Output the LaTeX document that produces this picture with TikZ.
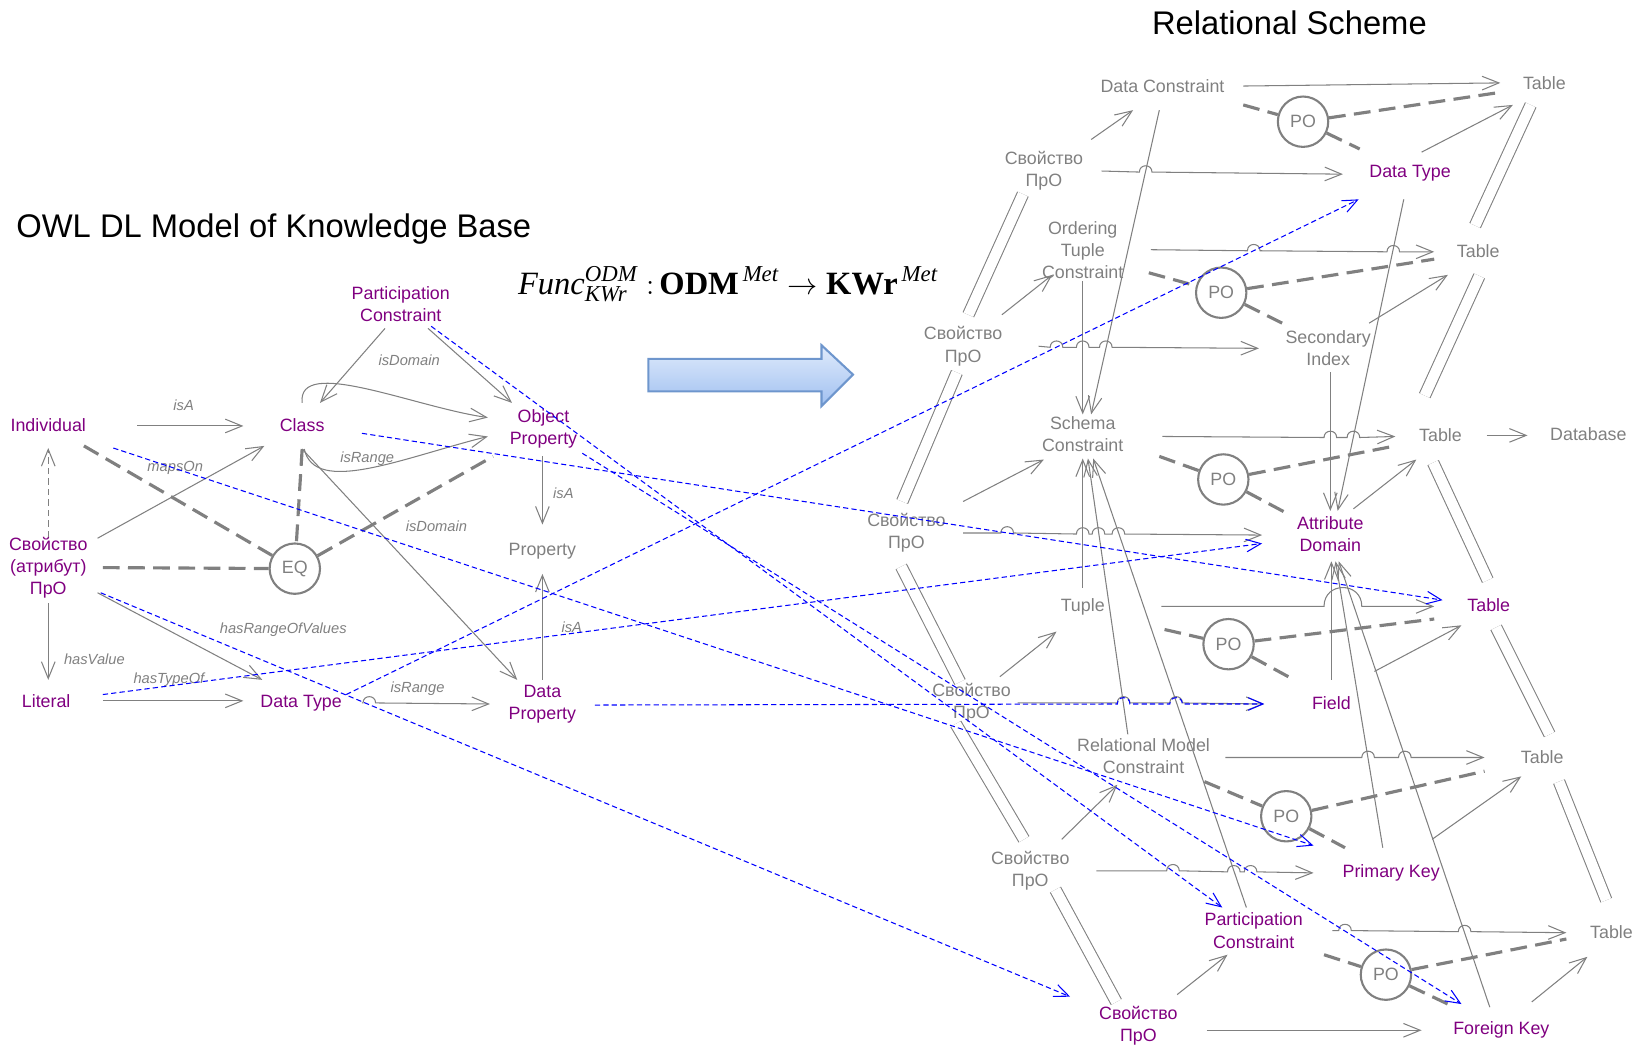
\documentclass[tikz,border=0pt]{standalone}
\usepackage{fontspec}
\usepackage{amsmath}
\setmainfont{Liberation Sans}
\newfontfamily\tms{Liberation Serif}
\usetikzlibrary{arrows.meta,calc}
\definecolor{pur}{RGB}{128,0,128}
\definecolor{gry}{RGB}{128,128,128}
\definecolor{bfA}{RGB}{224,235,252}
\definecolor{bfB}{RGB}{160,192,240}
\definecolor{bEdge}{RGB}{110,150,205}
\tikzset{
 txtbase/.style={font=\fontsize{8.5}{10.5}\selectfont, align=center, inner sep=0pt},
 pn/.style={txtbase, text=pur},
 gn/.style={txtbase, text=gry},
 pocirc/.style={circle, draw=gry, line width=1pt, minimum size=24pt, inner sep=0pt, text=gry, font=\fontsize{8.5}{10}\selectfont},
 ar/.style={draw=gry, line width=0.5pt, -{Straight Barb[length=8pt,width=6.5pt]}},
 hd/.style={draw=gry, line width=1.5pt, dash pattern=on 8pt off 4pt},
 bl/.style={draw=blue, line width=0.5pt, dash pattern=on 2.5pt off 1.5pt, -{Straight Barb[length=7pt,width=6pt]}},
 dbl/.style={draw=gry, line width=0.5pt, double=white, double distance=5pt},
 lab/.style={font=\fontsize{7}{8}\selectfont\itshape, text=gry, inner sep=0pt},
 ttl/.style={font=\fontsize{15.6}{18}\selectfont, text=black, inner sep=0pt},
 hp/.style args={#1/#2}{insert path={-- (#1-6,#2) .. controls (#1-6,#2-8) and (#1+6,#2-8) .. (#1+6,#2)}},
 bighp/.style args={#1/#2}{insert path={-- (#1-18,#2) .. controls (#1-18,#2-24) and (#1+18,#2-24) .. (#1+18,#2)}},
}
\begin{document}
\begin{tikzpicture}[x=0.5pt,y=-0.5pt]
\useasboundingbox (0,0) rectangle (1567,998);

% ---------- titles ----------
\node[ttl] (tL) at (261,218) {OWL DL Model of Knowledge Base};
\node[ttl] (tR) at (1229,22) {Relational Scheme};
\node[inner sep=0pt] (fml) at (694,271) {\tms\fontsize{15.5}{18}\selectfont
 $\text{\itshape Func}^{\text{\itshape ODM}}_{\text{\itshape KWr}}\;{:}\,\text{\bfseries ODM}^{\,\text{\itshape Met}}\rightarrow\text{\bfseries KWr}^{\,\text{\itshape Met}}$};

% big arrow
\path[draw=bEdge, line width=1pt, top color=bfA, bottom color=bfB]
 (618,342) -- (783,342) -- (783,329) -- (813,357) -- (783,387) -- (783,373) -- (618,373) -- cycle;

% ---------- left nodes ----------
\node[pn] (ind) at (46,405) {Individual};
\node[pn] (cls) at (288,405) {Class};
\node[pn] (pcL) at (382,290) {Participation\\Constraint};
\node[pn] (op) at (518,409) {Object\\Property};
\node[pn] (sa) at (46,541) {Свойство\\(атрибут)\\ПрО};
\node[pocirc] (eq) at (281,542) {EQ};
\node[gn] (prop) at (517,525) {Property};
\node[pn] (lit) at (44,668) {Literal};
\node[pn] (dtL) at (287,670) {Data Type};
\node[pn] (dp) at (517,671) {Data\\Property};

% ---------- right nodes ----------
\node[gn] (dc) at (1108,82) {Data Constraint};
\node[gn] (t1) at (1472,79) {Table};
\node[pocirc] (po1) at (1242,116) {PO};
\node[gn] (s1) at (995,163) {Свойство\\ПрО};
\node[pn] (dtR) at (1344,165) {Data Type};
\node[gn] (otc) at (1032,238) {Ordering\\Tuple\\Constraint};
\node[gn] (t2) at (1409,239) {Table};
\node[pocirc] (po2) at (1164,279) {PO};
\node[gn] (si) at (1266,332) {Secondary\\Index};
\node[gn] (s2) at (918,330) {Свойство\\ПрО};
\node[gn] (sc) at (1032,414) {Schema\\Constraint};
\node[gn] (t3) at (1373,415) {Table};
\node[gn] (db) at (1514,414) {Database};
\node[pocirc] (po3) at (1166,457) {PO};
\node[pn] (ad) at (1268,509) {Attribute\\Domain};
\node[gn] (s3) at (864,508) {Свойство\\ПрО};
\node[gn] (tu) at (1032,578) {Tuple};
\node[pn] (t4) at (1419,577) {Table};
\node[pocirc] (po4) at (1171,614) {PO};
\node[pn] (fd) at (1269,670) {Field};
\node[gn] (s4) at (926,670) {Свойство\\ПрО};
\node[gn] (rmc) at (1090,721) {Relational Model\\Constraint};
\node[gn] (t5) at (1470,722) {Table};
\node[pocirc] (po5) at (1226,778) {PO};
\node[gn] (s5) at (982,830) {Свойство\\ПрО};
\node[pn] (pk) at (1326,832) {Primary Key};
\node[pn] (pcR) at (1195,887) {Participation\\Constraint};
\node[gn] (t6) at (1536,888) {Table};
\node[pocirc] (po6) at (1321,929) {PO};
\node[pn] (s6) at (1085,978) {Свойство\\ПрО};
\node[pn] (fk) at (1431,982) {Foreign Key};

% ---------- double lines ----------
\draw[dbl] ($(t1)+(-13,21)$) -- ($(t2)+(-3,-24)$);
\draw[dbl] ($(t2)+(1,24)$) -- ($(t3)+(-15,-38)$);
\draw[dbl] ($(t3)+(-7,26)$) -- ($(t4)+(-1,-24)$);
\draw[dbl] ($(t4)+(7,21)$) -- ($(t5)+(7,-22)$);
\draw[dbl] ($(t5)+(16,23)$) -- ($(t6)+(-5,-30)$);
\draw[dbl] ($(s1)+(-20,22)$) -- ($(s2)+(5,-30)$);
\draw[dbl] ($(s2)+(-6,25)$) -- ($(s3)+(-4,-30)$);
\draw[dbl] ($(s3)+(-5,32)$) -- ($(s4)+(-11,-20)$);
\draw[dbl] ($(s4)+(-15,20)$) -- ($(s5)+(-6,-30)$);
\draw[dbl] ($(s5)+(24,18)$) -- ($(s6)+(-21,-23)$);

% ---------- left grey edges ----------
\draw[ar] ($(ind)+(85,1)$) -- ($(cls)+(-56,1)$);
\draw[ar, dash pattern=on 3pt off 2pt] ($(sa)+(0,-29)$) -- ($(ind)+(0,22)$);
\draw[ar] ($(sa)+(0,34)$) -- ($(lit)+(2,-20)$);
\draw[ar] ($(lit)+(54,0)$) -- ($(dtL)+(-55,-2)$);
\draw[ar] ($(sa)+(47,24)$) -- ($(dtL)+(-37,-22)$);
\draw[ar] ($(sa)+(47,-28)$) -- ($(cls)+(-36,20)$);
\draw[ar] ($(pcL)+(-15,23)$) -- ($(cls)+(17,-21)$);
\draw[ar] ($(pcL)+(26,23)$) -- ($(op)+(-30,-25)$);
\draw[ar] ($(cls)+(0,-21)$) .. controls +(-5,-45) and +(-70,-10) .. ($(op)+(-53,-11)$);
\draw[ar] ($(cls)+(2,23)$) .. controls +(10,45) and +(-80,20) .. ($(op)+(-53,7)$);
\draw[ar] ($(cls)+(0,23)$) -- ($(dp)+(-24,-23)$);
\draw[ar] ($(op)+(-1,26)$) -- ($(prop)+(0,-25)$);
\draw[ar] ($(dp)+(0,-23)$) -- ($(prop)+(0,22)$);
\draw[ar] ($(dtL)+(58,0)$) [hp=352/670] -- ($(dp)+(-50,0)$);
\draw[hd] ($(cls)+(0,23)$) -- (eq);
\draw[hd] ($(ind)+(34,20)$) -- (eq);
\draw[hd] ($(sa)+(52,0)$) -- (eq);
\draw[hd] (eq) -- ($(op)+(-48,26)$);

% left labels
\node[lab] (l1) at (175,386) {isA};
\node[lab] (l2) at (167,446) {mapsOn};
\node[lab] (l3) at (390,343) {isDomain};
\node[lab] (l4) at (350,437) {isRange};
\node[lab] (l5) at (537,470) {isA};
\node[lab] (l6) at (416,502) {isDomain};
\node[lab] (l7) at (270,600) {hasRangeOfValues};
\node[lab] (l8) at (90,628) {hasValue};
\node[lab] (l9) at (161,648) {hasTypeOf};
\node[lab] (l10) at (545,598) {isA};
\node[lab] (l11) at (398,656) {isRange};

% ---------- right grey edges ----------
% row 1
\draw[ar] ($(dc)+(77,0)$) -- ($(t1)+(-42,0)$);
\draw[ar] ($(s1)+(45,-30)$) -- ($(dc)+(-28,23)$);
\draw[ar] ($(s1)+(55,0)$) [hp=1092/164] -- ($(dtR)+(-64,1)$);
\draw[ar] ($(dtR)+(11,-20)$) -- ($(t1)+(-30,21)$);
\draw[ar] ($(dtR)+(-6,25)$) -- ($(ad)+(7,-22)$);
\draw[ar] ($(dc)+(-3,23)$) -- ($(sc)+(8,-19)$);
\draw[ar] ($(otc)+(0,30)$) -- ($(sc)+(0,-19)$);
\draw[hd] ($(dc)+(77,18)$) -- (po1);
\draw[hd] (po1) -- ($(t1)+(-42,9)$);
\draw[hd] (po1) -- ($(dtR)+(-48,-23)$);
% row 2
\draw[ar] ($(otc)+(65,0)$) [hp=1195/239] [hp=1328/240] -- ($(t2)+(-42,1)$);
\draw[ar] ($(s2)+(37,-30)$) -- ($(otc)+(-29,24)$);
\draw[ar] ($(s2)+(72,0)$) [hp=1007/331] [hp=1032/331] [hp=1054/331] -- ($(si)+(-66,0)$);
\draw[ar] ($(si)+(39,-24)$) -- ($(t2)+(-29,23)$);
\draw[ar] ($(si)+(2,23)$) -- ($(ad)+(0,-22)$);
\draw[hd] ($(otc)+(63,22)$) -- (po2);
\draw[hd] (po2) -- ($(t2)+(-42,8)$);
\draw[hd] (po2) -- ($(si)+(-44,-24)$);
% row 3
\draw[ar] ($(sc)+(76,2)$) [hp=1268/417] [hp=1290/417] -- ($(t3)+(-43,1)$);
\draw[ar] ($(t3)+(44,0)$) -- ($(db)+(-58,1)$);
\draw[ar] ($(s3)+(54,-30)$) -- ($(sc)+(-37,24)$);
\draw[ar] ($(s3)+(54,0)$) [hp=960/508] [hp=1032/509] [hp=1047/509] [hp=1066/509] -- ($(ad)+(-65,1)$);
\draw[ar] ($(ad)+(22,-24)$) -- ($(t3)+(-23,23)$);
\draw[hd] ($(sc)+(73,21)$) -- (po3);
\draw[hd] (po3) -- ($(t3)+(-43,10)$);
\draw[hd] (po3) -- ($(ad)+(-40,-19)$);
% row 4
\draw[ar] ($(tu)+(0,-18)$) -- ($(sc)+(0,23)$);
\draw[ar] ($(tu)+(75,0)$) [bighp=1280/578] -- ($(t4)+(-52,1)$);
\draw[ar] ($(s4)+(27,-25)$) -- ($(tu)+(-25,24)$);
\draw[ar] ($(s4)+(44,0)$) [hp=1071/670] [hp=1121/670] -- ($(fd)+(-64,1)$);
\draw[ar] ($(fd)+(0,-22)$) -- ($(ad)+(1,26)$);
\draw[ar] ($(fd)+(41,-30)$) -- ($(t4)+(-26,19)$);
\draw[hd] ($(tu)+(78,22)$) -- (po4);
\draw[hd] (po4) -- ($(t4)+(-52,13)$);
\draw[hd] (po4) -- ($(fd)+(-41,-25)$);
\draw[ar] ($(rmc)+(-15,-21)$) -- ($(sc)+(5,23)$);
\draw[ar] ($(pcR)+(-7,-22)$) -- ($(sc)+(10,23)$);
\draw[ar] ($(pk)+(-8,-24)$) -- ($(ad)+(5,26)$);
\draw[ar] ($(fk)+(-11,-22)$) -- ($(ad)+(8,26)$);
% row 5
\draw[ar] ($(rmc)+(78,1)$) [hp=1304/722] [hp=1339/722] -- ($(t5)+(-55,0)$);
\draw[ar] ($(s5)+(30,-30)$) -- ($(rmc)+(-25,27)$);
\draw[ar] ($(s5)+(63,0)$) [hp=1118/830] [hp=1176/831] [hp=1192/831] -- ($(pk)+(-74,0)$);
\draw[ar] ($(pk)+(39,-32)$) -- ($(t5)+(-20,18)$);
\draw[hd] ($(rmc)+(58,24)$) -- (po5);
\draw[hd] (po5) -- ($(t5)+(-55,13)$);
\draw[hd] (po5) -- ($(pk)+(-44,-24)$);
% row 6
\draw[ar] ($(pcR)+(75,0)$) [hp=1282/887] [hp=1396/888] -- ($(t6)+(-43,1)$);
\draw[ar] ($(s6)+(37,-30)$) -- ($(pcR)+(-25,23)$);
\draw[ar] ($(s6)+(65,4)$) -- ($(fk)+(-76,0)$);
\draw[ar] ($(fk)+(29,-27)$) -- ($(t6)+(-23,24)$);
\draw[hd] ($(pcR)+(67,23)$) -- (po6);
\draw[hd] (po6) -- ($(t6)+(-43,7)$);
\draw[hd] (po6) -- ($(fk)+(-51,-25)$);

% ---------- blue mapping lines ----------
\draw[bl] ($(dtL)+(43,-8)$) -- ($(dtR)+(-49,25)$);
\draw[bl] ($(lit)+(54,-6)$) -- ($(ad)+(-65,9)$);
\draw[bl] ($(sa)+(50,24)$) -- ($(s6)+(-65,-28)$);
\draw[bl] ($(ind)+(62,22)$) -- ($(pk)+(-74,-26)$);
\draw[bl] ($(cls)+(57,8)$) -- ($(t4)+(-44,-5)$);
\draw[bl] ($(pcL)+(29,21)$) -- ($(pcR)+(-30,-22)$);
\draw[bl] ($(op)+(37,23)$) -- ($(fk)+(-38,-25)$);
\draw[bl] ($(dp)+(50,1)$) [hp=1071/671] [hp=1121/671] -- ($(fd)+(-64,1)$);
\end{tikzpicture}
\end{document}
